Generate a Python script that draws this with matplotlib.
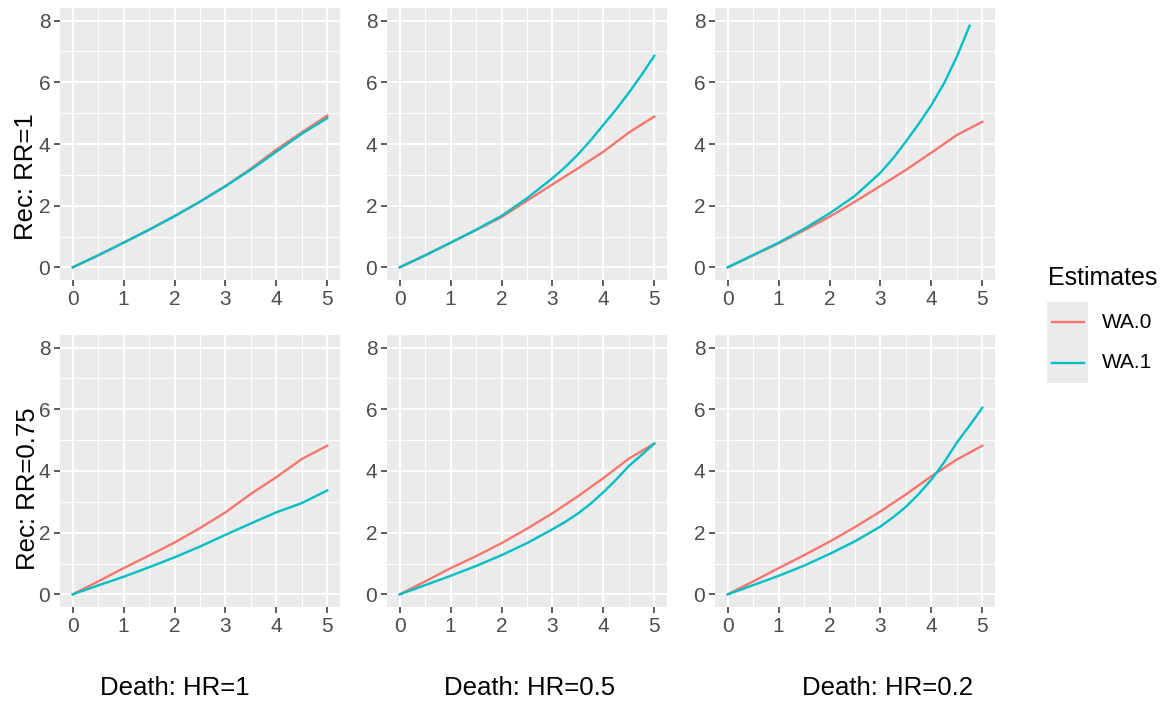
import numpy as np
import matplotlib.pyplot as plt
from matplotlib.lines import Line2D
from matplotlib.patches import Rectangle

plt.rcParams["font.family"] = ["Liberation Sans", "DejaVu Sans"]

# time grids (years)
t = [0, 0.5, 1, 1.5, 2, 2.5, 3, 3.5, 4, 4.5, 5]
t_fine = [0, 0.5, 1, 1.5, 2, 2.5, 3, 3.25, 3.5, 3.75, 4, 4.25, 4.5, 4.75, 5]
t_short = [0, 0.5, 1, 1.5, 2, 2.5, 3, 3.25, 3.5, 3.75, 4, 4.25, 4.5, 4.75]

death_labels = ["Death: HR=1", "Death: HR=0.5", "Death: HR=0.2"]
rec_labels = ["Rec: RR=1", "Rec: RR=0.75"]

# row RR=1
wa0_rr1_hr1 = [0, 0.39, 0.80, 1.22, 1.66, 2.13, 2.64, 3.20, 3.82, 4.38, 4.92]
wa1_rr1_hr1 = [0, 0.39, 0.80, 1.22, 1.66, 2.13, 2.63, 3.17, 3.75, 4.33, 4.84]
wa0_rr1_hr05 = [0, 0.39, 0.80, 1.21, 1.63, 2.16, 2.69, 3.21, 3.75, 4.37, 4.89]
wa1_rr1_hr05 = [0, 0.39, 0.80, 1.22, 1.67, 2.24, 2.89, 3.25, 3.66, 4.12, 4.62,
                5.12, 5.66, 6.24, 6.86]
wa0_rr1_hr02 = [0, 0.39, 0.78, 1.20, 1.64, 2.13, 2.64, 3.16, 3.72, 4.29, 4.72]
wa1_rr1_hr02 = [0, 0.40, 0.80, 1.25, 1.75, 2.32, 3.07, 3.54, 4.08, 4.65, 5.26,
                5.97, 6.83, 7.83]

# row RR=0.75
wa0_rr075_hr1 = [0, 0.42, 0.85, 1.26, 1.68, 2.15, 2.66, 3.26, 3.80, 4.39, 4.82]
wa1_rr075_hr1 = [0, 0.29, 0.57, 0.88, 1.20, 1.55, 1.93, 2.30, 2.66, 2.96, 3.37]
wa0_rr075_hr05 = [0, 0.42, 0.85, 1.24, 1.66, 2.13, 2.63, 3.18, 3.77, 4.40, 4.89]
wa1_rr075_hr05 = [0, 0.30, 0.60, 0.92, 1.27, 1.66, 2.11, 2.35, 2.62, 2.94, 3.31,
                  3.72, 4.16, 4.52, 4.89]
wa0_rr075_hr02 = [0, 0.42, 0.85, 1.27, 1.71, 2.18, 2.69, 3.24, 3.83, 4.37, 4.82]
wa1_rr075_hr02 = [0, 0.30, 0.60, 0.93, 1.31, 1.72, 2.20, 2.50, 2.84, 3.25, 3.72,
                  4.28, 4.92, 5.47, 6.05]

panels = [
    [(t, wa0_rr1_hr1, t, wa1_rr1_hr1),
     (t, wa0_rr1_hr05, t_fine, wa1_rr1_hr05),
     (t, wa0_rr1_hr02, t_short, wa1_rr1_hr02)],
    [(t, wa0_rr075_hr1, t, wa1_rr075_hr1),
     (t, wa0_rr075_hr05, t_fine, wa1_rr075_hr05),
     (t, wa0_rr075_hr02, t_fine, wa1_rr075_hr02)],
]

red = "#F8766D"
teal = "#00BFC4"
W, H = 1174, 704

fig = plt.figure(figsize=(W / 100, H / 100), dpi=100)

lefts = [60, 387, 715]
tops = [8, 335]
pw, ph = 280, 272

for r in range(2):
    for c in range(3):
        x0, y0 = lefts[c], tops[r]
        ax = fig.add_axes([x0 / W, 1 - (y0 + ph) / H, pw / W, ph / H])
        ax.set_facecolor("#EBEBEB")
        tx0, y0s, tx1, y1s = panels[r][c]
        ax.plot(tx0, y0s, color=red, lw=1.7, zorder=3)
        ax.plot(tx1, y1s, color=teal, lw=1.7, zorder=3)
        ax.set_xlim(-0.25, 5.25)
        ax.set_ylim(-0.41, 8.41)
        ax.set_xticks(range(6))
        ax.set_yticks([0, 2, 4, 6, 8])
        ax.set_xticks(np.arange(0.5, 5, 1), minor=True)
        ax.set_yticks([1, 3, 5, 7], minor=True)
        ax.grid(which="major", color="white", lw=1.4)
        ax.grid(which="minor", color="white", lw=0.7)
        ax.set_axisbelow(True)
        for s in ax.spines.values():
            s.set_visible(False)
        ax.tick_params(which="major", length=4, width=1.1, color="#333333",
                       labelsize=15, labelcolor="#4D4D4D", pad=3)
        ax.tick_params(which="minor", length=0)

for c, lab in enumerate(death_labels):
    xc = [175, 530, 887][c]
    fig.text(xc / W, 1 - 688 / H, lab, ha="center", va="center", fontsize=18.5)

for r, lab in enumerate(rec_labels):
    yc = [177, 489][r]
    xc = [26, 28][r]
    fig.text(xc / W, 1 - yc / H, lab, ha="center", va="center", rotation=90,
             fontsize=18.5)

# legend
fig.text(1048 / W, 1 - 278 / H, "Estimates", ha="left", va="center", fontsize=18)
fig.patches.append(Rectangle((1047 / W, 1 - 383 / H), 41 / W, 81 / H,
                             transform=fig.transFigure, facecolor="#EBEBEB",
                             edgecolor="none"))
for yk, col, lab in [(322, red, "WA.0"), (363, teal, "WA.1")]:
    fig.lines.append(Line2D([1052 / W, 1084 / W], [1 - yk / H, 1 - yk / H],
                            transform=fig.transFigure, color=col, lw=1.7))
    fig.text(1102 / W, 1 - yk / H, lab, ha="left", va="center", fontsize=15)

fig.savefig("out.png", dpi=100, facecolor="white")
